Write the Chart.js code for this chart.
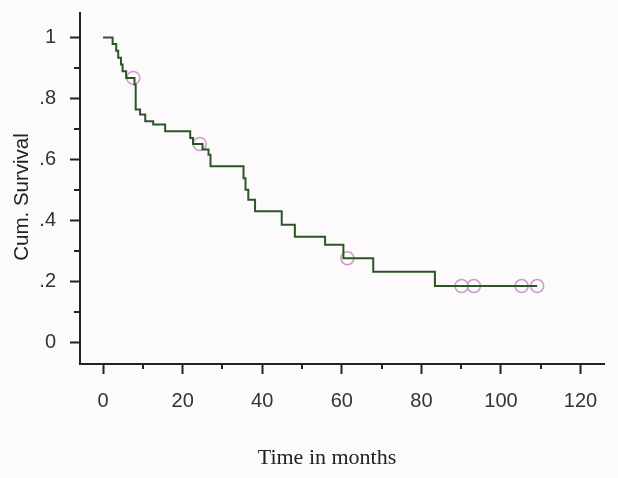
<!DOCTYPE html>
<html lang="en">
<head>
<meta charset="UTF-8">
<title>Cum. Survival</title>
<script src="https://cdn.jsdelivr.net/npm/chart.js"></script>
<style>
  html, body { margin: 0; padding: 0; background: #fdfafc; }
  canvas { display: block; }
</style>
</head>
<body>
<canvas id="km" width="618" height="478"></canvas>
<script>
// step points of the curve: months, cumulative survival
const stepTimes    = [0, 2.4, 3.3, 3.8, 4.5, 4.9, 5.8, 7.9, 8.2, 9.3, 10.6, 12.6, 15.6, 21.9, 22.6, 25.0, 26.5, 27.0, 35.3, 35.8, 36.5, 38.2, 44.9, 48.2, 55.8, 60.4, 67.9, 83.4, 109.1];
const stepSurvival = [1, .978, .956, .933, .911, .889, .867, .845, .763, .747, .725, .714, .692, .670, .650, .632, .615, .577, .538, .500, .467, .429, .385, .346, .319, .275, .231, .184, .184];
// censored cases (circles)
const censorTimes    = [7.6, 24.3, 61.4, 90.1, 93.2, 105.2, 109.1];
const censorSurvival = [.867, .650, .275, .184, .184, .184, .184];

const xTicks = [0, 20, 40, 60, 80, 100, 120];
const xMinorTicks = [10, 30, 50, 70, 90, 110];
const yTicks = [0, .2, .4, .6, .8, 1];
const yMinorTicks = [.1, .3, .5, .7, .9];

const ink = '#222';

// short ticks between the labelled ones
const minorTicks = {
  id: 'minorTicks',
  afterDraw(chart) {
    const { ctx, scales: { x, y } } = chart;
    ctx.save();
    ctx.strokeStyle = ink;
    ctx.lineWidth = 2;
    ctx.beginPath();
    xMinorTicks.forEach(v => {
      const px = Math.round(x.getPixelForValue(v));
      ctx.moveTo(px, x.top);
      ctx.lineTo(px, x.top + 5);
    });
    yMinorTicks.forEach(v => {
      const py = Math.round(y.getPixelForValue(v));
      ctx.moveTo(y.right, py);
      ctx.lineTo(y.right - 6, py);
    });
    ctx.stroke();
    ctx.restore();
  }
};

// axis titles, placed where the original has them
const axisTitles = {
  id: 'axisTitles',
  afterDraw(chart) {
    const { ctx } = chart;
    ctx.save();
    ctx.fillStyle = ink;
    ctx.textAlign = 'center';
    ctx.textBaseline = 'middle';
    ctx.font = '22px "Liberation Serif", "Times New Roman", serif';
    ctx.fillText('Time in months', 327, 458);
    ctx.translate(22, 197);
    ctx.rotate(-Math.PI / 2);
    ctx.font = '20.5px "Liberation Sans", Arial, sans-serif';
    ctx.fillText('Cum. Survival', 0, 0);
    ctx.restore();
  }
};

// keep the plot box where the original has it
const noOverhang = s => { s.paddingTop = 0; s.paddingBottom = 0; s.paddingLeft = 0; s.paddingRight = 0; };

new Chart(document.getElementById('km'), {
  type: 'line',
  data: {
    datasets: [
      {
        label: 'Survival',
        data: stepTimes.map((t, i) => ({ x: t, y: stepSurvival[i] })),
        stepped: 'before',
        borderColor: '#2b5626',
        borderWidth: 2,
        pointRadius: 0,
        fill: false
      },
      {
        label: 'Censored',
        data: censorTimes.map((t, i) => ({ x: t, y: censorSurvival[i] })),
        showLine: false,
        pointStyle: 'circle',
        pointRadius: 6.5,
        pointBorderWidth: 1.5,
        pointBorderColor: '#c79bc9',
        pointBackgroundColor: 'rgba(0,0,0,0)'
      }
    ]
  },
  options: {
    responsive: false,
    devicePixelRatio: 1,
    animation: false,
    layout: { padding: { top: 13, right: 14, left: 0, bottom: 0 } },
    plugins: { legend: { display: false }, tooltip: { enabled: false } },
    scales: {
      x: {
        type: 'linear',
        min: -5.8,
        max: 125.9,
        afterBuildTicks: s => { s.ticks = xTicks.map(v => ({ value: v })); },
        afterFit: s => { s.height = 114; noOverhang(s); },
        border: { color: ink, width: 2 },
        grid: { drawOnChartArea: false, tickLength: 10, tickColor: ink, tickWidth: 2 },
        ticks: {
          color: '#333', padding: 15, maxRotation: 0, autoSkip: false,
          font: { family: '"Liberation Sans", Arial, sans-serif', size: 20 }
        }
      },
      y: {
        type: 'linear',
        min: -0.072,
        max: 1.08,
        afterBuildTicks: s => { s.ticks = yTicks.map(v => ({ value: v })); },
        afterFit: s => { s.width = 80; noOverhang(s); },
        border: { color: ink, width: 2 },
        grid: { drawOnChartArea: false, tickLength: 10, tickColor: ink, tickWidth: 2 },
        ticks: {
          color: '#333', padding: 14,
          font: { family: '"Liberation Sans", Arial, sans-serif', size: 20 },
          callback: v => (v === 0 || v === 1) ? String(v) : String(+v.toFixed(1)).replace('0.', '.')
        }
      }
    }
  },
  plugins: [minorTicks, axisTitles]
});
</script>
</body>
</html>
